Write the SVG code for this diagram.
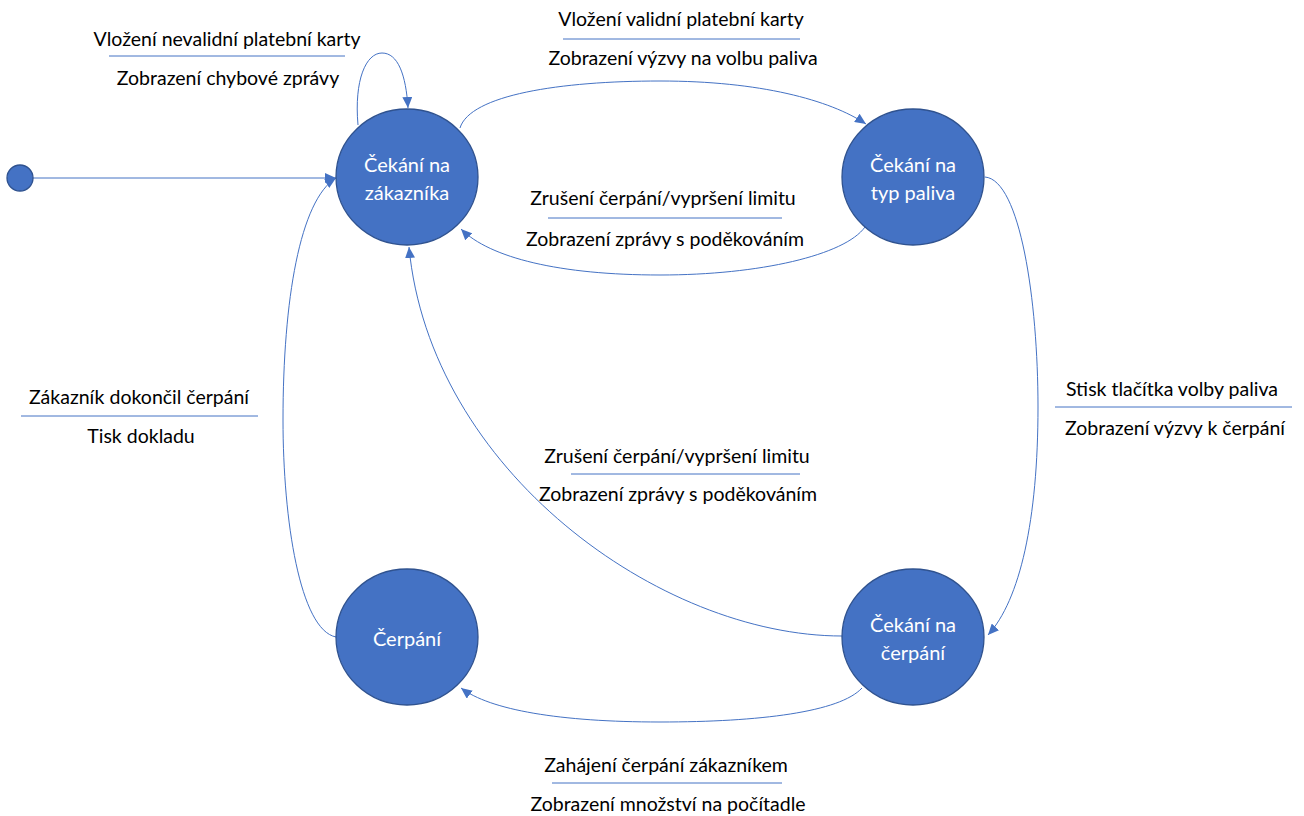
<svg xmlns="http://www.w3.org/2000/svg" width="1304" height="816" viewBox="0 0 1304 816">
<defs>
<style>
.state{fill:#4472C4;stroke:#2F528F;stroke-width:1.3}
.st{fill:#FFFFFF;font-family:Lato,"Liberation Sans",sans-serif;font-size:20px;text-anchor:middle;dominant-baseline:central}
.lbl{fill:#000000;font-family:Lato,"Liberation Sans",sans-serif;font-size:19.5px;text-anchor:middle;dominant-baseline:central}
.sep{stroke:#4472C4;stroke-width:1;fill:none}
.edge{stroke:#4472C4;stroke-width:1;fill:none;marker-end:url(#arr)}
</style>
<marker id="arr" markerUnits="userSpaceOnUse" markerWidth="12" markerHeight="10" refX="11" refY="5" orient="auto">
<path d="M0,0 L11,5 L0,10 Z" fill="#4472C4"/>
</marker>
</defs>
<rect width="1304" height="816" fill="#FFFFFF"/>
<g id="connectors">
<path class="edge" d="M33,178 L336,178"/>
<path class="edge" d="M358,125 C354,80 366,53 382,53 C398,53 406,75 408,108"/>
<path class="edge" d="M460,128 C470,95 560,81 660,81 C760,81 830,100 866,124"/>
<path class="edge" d="M865,227 C845,255 760,275 660,275 C560,275 490,258 461,229"/>
<path class="edge" d="M985,177 C1020,180 1038,300 1038,407 C1038,520 1020,600 988,635"/>
<path class="edge" d="M842,636 C660,636 430,470 409,247"/>
<path class="edge" d="M862,688 C840,712 760,722 660,722 C560,722 490,710 461,688"/>
<path class="edge" d="M336,637 C300,630 283,520 283,420 C283,300 300,200 336,178"/>
</g>
<g id="start">
<circle class="state" cx="20" cy="178" r="13"/>
</g>
<g id="cekani-zakaznik">
<ellipse class="state" cx="407" cy="177" rx="71" ry="68"/>
<text class="st" x="407" y="164">Čekání na</text>
<text class="st" x="407" y="192">zákazníka</text>
</g>
<g id="cekani-typ">
<ellipse class="state" cx="913" cy="177" rx="71" ry="68"/>
<text class="st" x="913" y="164">Čekání na</text>
<text class="st" x="913" y="192">typ paliva</text>
</g>
<g id="cerpani">
<ellipse class="state" cx="407" cy="637" rx="71" ry="68"/>
<text class="st" x="407" y="638">Čerpání</text>
</g>
<g id="cekani-cerpani">
<ellipse class="state" cx="913" cy="637" rx="71" ry="68"/>
<text class="st" x="913" y="624">Čekání na</text>
<text class="st" x="913" y="652">čerpání</text>
</g>
<g id="label-nevalidni">
<text class="lbl" x="227" y="38">Vložení nevalidní platební karty</text>
<line class="sep" x1="109" y1="56" x2="345" y2="56"/>
<text class="lbl" x="228" y="77">Zobrazení chybové zprávy</text>
</g>
<g id="label-validni">
<text class="lbl" x="681" y="18">Vložení validní platební karty</text>
<line class="sep" x1="563" y1="39" x2="800" y2="39"/>
<text class="lbl" x="683" y="57">Zobrazení výzvy na volbu paliva</text>
</g>
<g id="label-zruseni1">
<text class="lbl" x="663" y="197">Zrušení čerpání/vypršení limitu</text>
<line class="sep" x1="548" y1="218" x2="782" y2="218"/>
<text class="lbl" x="665" y="238">Zobrazení zprávy s poděkováním</text>
</g>
<g id="label-stisk">
<text class="lbl" x="1172" y="388">Stisk tlačítka volby paliva</text>
<line class="sep" x1="1055" y1="407" x2="1292" y2="407"/>
<text class="lbl" x="1175" y="427">Zobrazení výzvy k čerpání</text>
</g>
<g id="label-zruseni2">
<text class="lbl" x="677" y="455">Zrušení čerpání/vypršení limitu</text>
<line class="sep" x1="571" y1="474" x2="800" y2="474"/>
<text class="lbl" x="678" y="493">Zobrazení zprávy s poděkováním</text>
</g>
<g id="label-dokoncil">
<text class="lbl" x="139" y="396">Zákazník dokončil čerpání</text>
<line class="sep" x1="21" y1="416" x2="258" y2="416"/>
<text class="lbl" x="141" y="435">Tisk dokladu</text>
</g>
<g id="label-zahajeni">
<text class="lbl" x="666" y="764">Zahájení čerpání zákazníkem</text>
<line class="sep" x1="552" y1="783" x2="782" y2="783"/>
<text class="lbl" x="668" y="803">Zobrazení množství na počítadle</text>
</g>
</svg>
